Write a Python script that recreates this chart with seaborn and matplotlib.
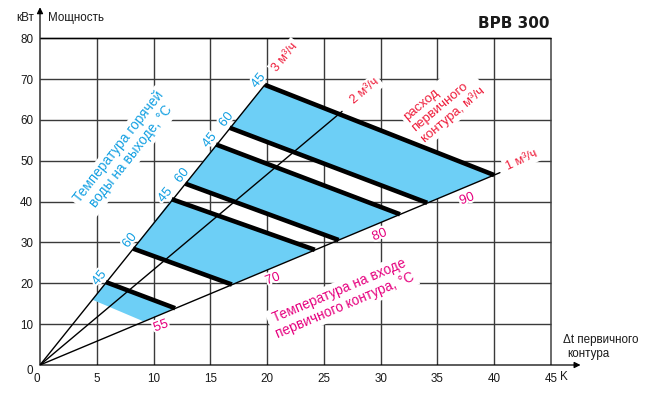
import math
import numpy as np
import pandas as pd
import matplotlib
matplotlib.use("Agg")
import matplotlib.pyplot as plt
import matplotlib.patheffects as pe
import seaborn as sns

# ---------------- data ----------------
x_ticks = [0, 5, 10, 15, 20, 25, 30, 35, 40, 45]
y_ticks = [0, 10, 20, 30, 40, 50, 60, 70, 80]

flow_labels = ["1 м³/ч", "2 м³/ч", "3 м³/ч"]
flow_end_dt = [40.5, 26.6, 19.8]
flow_end_kw = [47.1, 62.1, 68.6]

outlet_temps = [45, 60, 45, 60, 45, 60, 45]
outlet_top_dt = [5.8, 8.2, 11.6, 12.8, 15.5, 16.7, 19.8]
outlet_top_kw = [20.3, 28.5, 40.6, 44.4, 54.0, 58.1, 68.6]
outlet_bot_dt = [11.9, 16.9, 24.2, 26.3, 31.7, 34.1, 40.0]
outlet_bot_kw = [13.9, 19.7, 28.2, 30.6, 36.9, 39.7, 46.5]

inlet_temps = [55, 70, 80, 90]
band_lower_line = [None, 1, 3, 5]   # index of outlet line bounding band below
band_upper_line = [0, 2, 4, 6]      # index of outlet line bounding band above
band55_low_dt = [4.6, 9.1]          # lower edge of the 55 °C band (top, bottom)
band55_low_kw = [16.0, 10.7]

# ---------------- style ----------------
BLUE_FILL = "#6dcff6"
BLUE_TXT = "#14a0e2"
PINK = "#e6007e"
RED = "#ee1c3a"
GRID = "#3a3a3a"

sns.set_theme(style="white")
plt.rcParams["font.family"] = ["Liberation Sans", "DejaVu Sans"]

fig = plt.figure(figsize=(6.52, 3.98), dpi=100)
PX_X, PX_Y = 11.356, 4.084
XMAX, YMAX = 49.0, 88.0
ax = fig.add_axes([40 / 652, 33 / 398, XMAX * PX_X / 652, YMAX * PX_Y / 398])
ax.set_xlim(0, XMAX)
ax.set_ylim(0, YMAX)
sns.despine(ax=ax, left=True, bottom=True)

# grid
ax.vlines(x_ticks[1:-1], 0, y_ticks[-1], color=GRID, lw=1.0, zorder=1)
ax.vlines([x_ticks[-1]], 0, y_ticks[-1], color="#6a6a6a", lw=1.4, zorder=1)
ax.hlines(y_ticks[1:], 0, x_ticks[-1], color=GRID, lw=1.0, zorder=1)
ax.hlines([y_ticks[-1]], 0, x_ticks[-1], color="black", lw=1.0, zorder=1)

# axes arrows
ax.annotate("", xy=(0, 87.6), xytext=(0, 0),
            arrowprops=dict(arrowstyle="-|>", color="black", lw=0.9, mutation_scale=9,
                            shrinkA=0, shrinkB=0), annotation_clip=False, zorder=6)
ax.annotate("", xy=(47.6, 0), xytext=(0, 0),
            arrowprops=dict(arrowstyle="-|>", color="black", lw=0.9, mutation_scale=9,
                            shrinkA=0, shrinkB=0), annotation_clip=False, zorder=6)

# ticks
ax.set_xticks(x_ticks)
ax.set_xticklabels([str(v) for v in x_ticks])
ax.set_yticks(y_ticks)
ax.set_yticklabels([str(v) for v in y_ticks])
ax.tick_params(axis="both", length=0, labelsize=8.4, colors="#1a1a1a")
ax.tick_params(axis="y", pad=5)
ax.tick_params(axis="x", pad=5.5)
ax.get_yticklabels()[0].set_va("top")
ax.get_xticklabels()[0].set_ha("right")
ax.annotate("K", (x_ticks[-1], 0), xytext=(9, -8.6), textcoords="offset points",
            ha="center", va="center", fontsize=8.4, color="#1a1a1a", annotation_clip=False)

# blue bands
for k, t in enumerate(inlet_temps):
    up = band_upper_line[k]
    lo = band_lower_line[k]
    if lo is None:
        xs = [band55_low_dt[0], band55_low_dt[1], outlet_bot_dt[up], outlet_top_dt[up]]
        ys = [band55_low_kw[0], band55_low_kw[1], outlet_bot_kw[up], outlet_top_kw[up]]
    else:
        xs = [outlet_top_dt[lo], outlet_bot_dt[lo], outlet_bot_dt[up], outlet_top_dt[up]]
        ys = [outlet_top_kw[lo], outlet_bot_kw[lo], outlet_bot_kw[up], outlet_top_kw[up]]
    ax.fill(xs, ys, color=BLUE_FILL, lw=0, zorder=2)

# flow-rate rays
rays = pd.DataFrame({
    "dt": sum([[0.0, d] for d in flow_end_dt], []),
    "kw": sum([[0.0, k] for k in flow_end_kw], []),
    "ray": sum([[lab, lab] for lab in flow_labels], []),
})
sns.lineplot(data=rays, x="dt", y="kw", units="ray", estimator=None, sort=False,
             color="black", lw=1.0, ax=ax, zorder=3)

# outlet temperature lines (thick)
thick = pd.DataFrame({
    "dt": sum([[a, b] for a, b in zip(outlet_top_dt, outlet_bot_dt)], []),
    "kw": sum([[a, b] for a, b in zip(outlet_top_kw, outlet_bot_kw)], []),
    "line": sum([[i, i] for i in range(len(outlet_temps))], []),
})
sns.lineplot(data=thick, x="dt", y="kw", units="line", estimator=None, sort=False,
             color="black", lw=3.3, ax=ax, zorder=4, solid_capstyle="butt")
ax.set_xlabel("")
ax.set_ylabel("")


def disp_angle(x0, y0, x1, y1):
    p0 = ax.transData.transform((x0, y0))
    p1 = ax.transData.transform((x1, y1))
    return math.atan2(p1[1] - p0[1], p1[0] - p0[0])


halo = [pe.withStroke(linewidth=3, foreground="white")]

# outlet temperature labels along the 3 m³/h ray
a3 = disp_angle(0, 0, flow_end_dt[2], flow_end_kw[2])
u = np.array([math.cos(a3), math.sin(a3)])
n = np.array([-math.sin(a3), math.cos(a3)])
for t, x, y in zip(outlet_temps, outlet_top_dt, outlet_top_kw):
    along = -1.0 if t == 45 else 4.0
    off = (along * u + 7.5 * n) * 0.72
    ax.annotate(str(t), (x, y), xytext=tuple(off), textcoords="offset points",
                ha="center", va="center", rotation=math.degrees(a3), rotation_mode="anchor",
                color=BLUE_TXT, fontsize=9.5, zorder=6, path_effects=halo)

# inlet temperature labels (positions of the text in data coordinates)
inlet_label_xy = [(10.65, 9.5), (20.5, 21.0), (29.9, 31.8), (37.6, 40.6)]
a1 = math.degrees(disp_angle(0, 0, flow_end_dt[0], flow_end_kw[0]))
for t, (x, y) in zip(inlet_temps, inlet_label_xy):
    ax.text(x, y, str(t), ha="center", va="center", rotation=a1 - 2, rotation_mode="anchor",
            color=PINK, fontsize=9.5, zorder=6, path_effects=halo)

# flow labels
flow_label_xy = [(42.4, 50.2), (28.6, 67.0), (21.6, 75.4)]
flow_label_rot = [25, 40, 51]
box = dict(boxstyle="square,pad=0.2", fc="white", ec="none")
for lab, (x, y), r in zip(flow_labels, flow_label_xy, flow_label_rot):
    ax.text(x, y, lab, ha="center", va="center", rotation=r, rotation_mode="anchor",
            color=RED, fontsize=9, zorder=2.5, bbox=box)

ax.text(35.6, 63.9, "расход\nпервичного\nконтура, м³/ч", ha="center", va="center",
        multialignment="left", rotation=40, rotation_mode="anchor", color=RED,
        fontsize=9.5, linespacing=1.15, zorder=2.5, bbox=box)
ax.text(7.5, 52.2, "Температура горячей\nводы на выходе, °C", ha="center", va="center",
        multialignment="center", rotation=52, rotation_mode="anchor", color=BLUE_TXT,
        fontsize=9.8, linespacing=1.15, zorder=2.5, bbox=box)
ax.text(26.6, 16.4, "Температура на входе\nпервичного контура, °C", ha="center", va="center",
        multialignment="center", rotation=23, rotation_mode="anchor", color=PINK,
        fontsize=9.8, linespacing=1.15, zorder=2.5, bbox=box)

# header texts
ax.text(-0.55, 85.0, "кВт", ha="right", va="center", fontsize=8.4, color="#1a1a1a")
ax.text(0.7, 85.0, "Мощность", ha="left", va="center", fontsize=8.4, color="#1a1a1a")
ax.text(44.9, 83.5, "BPB 300", ha="right", va="center", fontsize=11, fontweight="bold",
        family="DejaVu Sans", color="#1a1a1a")
ax.text(46.05, 6.1, "Δt первичного", ha="left", va="center", fontsize=8.4, color="#1a1a1a")
ax.text(46.4, 2.6, "контура", ha="left", va="center", fontsize=8.4, color="#1a1a1a")

fig.savefig("out.png", dpi=100)
